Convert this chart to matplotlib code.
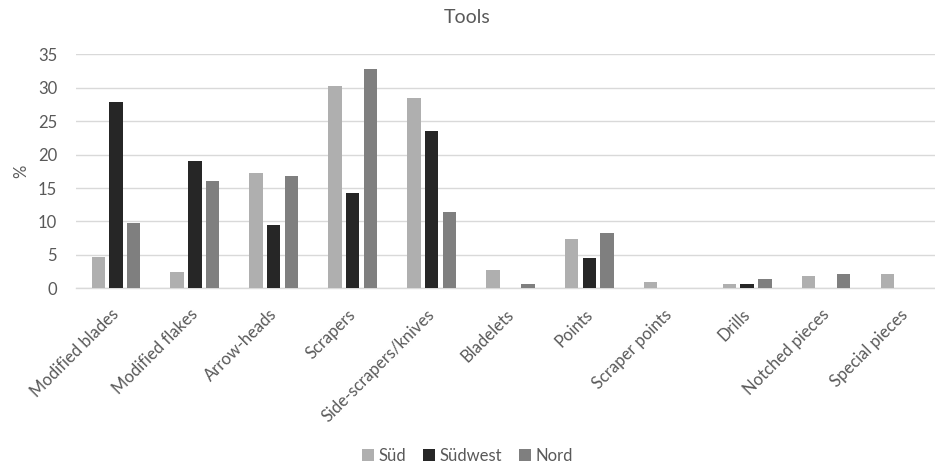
import matplotlib.pyplot as plt
import matplotlib.transforms as mtransforms
import numpy as np

# categories and values (%)
categories = ['Modified blades', 'Modified flakes', 'Arrow-heads', 'Scrapers',
              'Side-scrapers/knives', 'Bladelets', 'Points', 'Scraper points',
              'Drills', 'Notched pieces', 'Special pieces']
sud = [4.7, 2.4, 17.3, 30.3, 28.5, 2.75, 7.4, 0.9, 0.6, 1.85, 2.2]
sudwest = [27.8, 19.1, 9.5, 14.2, 23.6, 0, 4.6, 0, 0.6, 0, 0]
nord = [9.8, 16.0, 16.75, 32.75, 11.4, 0.65, 8.3, 0, 1.45, 2.2, 0]
series_names = ['Süd', 'Südwest', 'Nord']
colors = ['#AFAFAF', '#262626', '#7F7F7F']

text_color = '#595959'
grid_color = '#D9D9D9'

plt.rcParams['font.family'] = ['Lato', 'DejaVu Sans']

fig = plt.figure(figsize=(9.35, 4.67), dpi=100)
ax = fig.add_axes([0.0818, 0.3827, 0.9182, 0.501])

x = np.arange(len(categories))
step = 0.224
bar_w = 0.17
for i, (vals, name, c) in enumerate(zip([sud, sudwest, nord], series_names, colors)):
    ax.bar(x + (i - 1) * step, vals, width=bar_w, color=c, label=name, zorder=3)

ax.set_ylim(0, 35)
ax.set_yticks(range(0, 36, 5))
ax.set_xlim(-0.5, 10.38)
ax.set_xticks(x)
ax.set_xticklabels([])

# category labels drawn as rotated texts, shifted a bit down/left like the original
offset = mtransforms.ScaledTranslation(-5 / 100, -18 / 100, fig.dpi_scale_trans)
for xi, name in zip(x, categories):
    ax.text(xi, 0, name, transform=ax.get_xaxis_transform() + offset,
            rotation=45, ha='right', va='top', rotation_mode='anchor',
            fontsize=12, color=text_color)

ax.yaxis.grid(True, color=grid_color, linewidth=1, zorder=0)
for s in ['top', 'right', 'left']:
    ax.spines[s].set_visible(False)
ax.spines['bottom'].set_color(grid_color)
ax.spines['bottom'].set_linewidth(1)
ax.tick_params(axis='both', length=0, colors=text_color, labelsize=12)
ax.tick_params(axis='y', pad=14)

ax.set_ylabel('%', color=text_color, fontsize=12, labelpad=6)
fig.text(0.4995, 0.962, 'Tools', ha='center', va='center', color=text_color, fontsize=14)

leg = fig.legend(loc='lower center', bbox_to_anchor=(0.5, -0.025), ncol=3, frameon=False,
                 fontsize=12, handlelength=0.7, handleheight=0.7, handletextpad=0.3,
                 columnspacing=1.0)
for t in leg.get_texts():
    t.set_color(text_color)

fig.savefig('out.png', dpi=100)
